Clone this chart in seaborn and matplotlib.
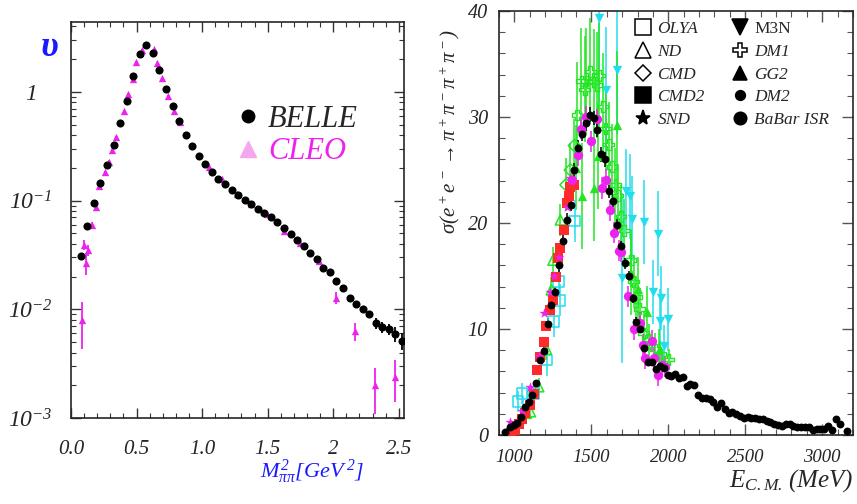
import numpy as np
import matplotlib
matplotlib.use("Agg")
import matplotlib.pyplot as plt
import seaborn as sns
from matplotlib.lines import Line2D
from matplotlib.ticker import (MultipleLocator, FixedLocator, FixedFormatter,
                               LogLocator, NullFormatter)

# ---------------- data: left panel (spectral function v) ----------------
belle_x = [0.075, 0.125, 0.175, 0.225, 0.275, 0.325, 0.375, 0.425, 0.475, 0.525,
           0.575, 0.625, 0.675, 0.725, 0.775, 0.825, 0.875, 0.925, 0.975, 1.025,
           1.075, 1.125, 1.175, 1.225, 1.275, 1.325, 1.375, 1.425, 1.475, 1.525,
           1.575, 1.625, 1.675, 1.725, 1.775, 1.825, 1.875, 1.925, 1.975, 2.025,
           2.075, 2.125, 2.175, 2.225, 2.275, 2.325, 2.375, 2.425, 2.475, 2.525]
belle_v = [0.0308, 0.0585, 0.0946, 0.145, 0.213, 0.325, 0.519, 0.826, 1.40, 2.24,
           2.71, 2.27, 1.59, 1.06, 0.743, 0.541, 0.405, 0.319, 0.258, 0.216,
           0.184, 0.158, 0.142, 0.125, 0.113, 0.101, 0.0926, 0.0839, 0.0776, 0.0713,
           0.0637, 0.0565, 0.0497, 0.0438, 0.0383, 0.0332, 0.0289, 0.0240, 0.0219, 0.0181,
           0.0157, 0.0126, 0.0112, 0.0100, 0.0090, 0.00745, 0.00685, 0.00656, 0.00594, 0.00515]
belle_err = [0.002, 0.002, 0.003, 0.004, 0.005, 0.007, 0.01, 0.015, 0.025, 0.035,
             0.04, 0.035, 0.025, 0.017, 0.012, 0.009, 0.007, 0.006, 0.005, 0.004,
             0.004, 0.0035, 0.003, 0.003, 0.0028, 0.0025, 0.0024, 0.0022, 0.002, 0.0019,
             0.0017, 0.0015, 0.0014, 0.0013, 0.0012, 0.0011, 0.001, 0.0009, 0.0009, 0.0008,
             0.0008, 0.0007, 0.0007, 0.0007, 0.0007, 0.0009, 0.0008, 0.0008, 0.0009, 0.0009]

cleo_x = [0.082, 0.099, 0.112, 0.13, 0.163, 0.19, 0.214, 0.262, 0.288, 0.315,
          0.341, 0.402, 0.433, 0.471, 0.498, 0.54, 0.634, 0.659, 0.697, 0.743,
          0.786, 0.832, 1.053, 1.153, 1.269, 1.372, 1.494, 1.624, 1.748, 1.888,
          2.02, 2.17, 2.315, 2.468]
cleo_v = [0.0080, 0.039, 0.0269, 0.0352, 0.0600, 0.0869, 0.136, 0.184, 0.229, 0.293,
          0.388, 0.669, 0.953, 1.32, 1.90, 2.43, 2.47, 1.84, 1.33, 0.925,
          0.669, 0.526, 0.203, 0.158, 0.116, 0.093, 0.0755, 0.0526, 0.0406, 0.0279,
          0.0128, 0.0063, 0.0020, 0.0024]
cleo_err = [0.0037, 0.004, 0.006, 0.004, 0.004, 0.004, 0.005, 0.005, 0.006, 0.007,
            0.008, 0.012, 0.015, 0.02, 0.03, 0.035, 0.035, 0.03, 0.02, 0.015,
            0.012, 0.01, 0.005, 0.004, 0.003, 0.003, 0.0025, 0.002, 0.0018, 0.0015,
            0.0015, 0.0012, 0.0009, 0.001]

# ---------------- data: right panel (cross sections, nb) ----------------
babar_E = [937, 969, 995, 1017, 1044, 1071, 1093, 1117, 1141, 1167, 1190, 1216, 1240,
           1266, 1290, 1316, 1342, 1366, 1385, 1414, 1440, 1466, 1489, 1515, 1539,
           1565, 1591, 1615, 1641, 1667, 1690, 1716, 1742, 1768, 1792, 1816, 1840,
           1866, 1892, 1918, 1944, 1970, 1995, 2020, 2044, 2070, 2093, 2119, 2143,
           2167, 2193, 2219, 2245, 2268, 2292, 2316, 2340, 2366, 2392, 2416, 2442,
           2466, 2489, 2515, 2539, 2565, 2589, 2613, 2639, 2663, 2688, 2712, 2738,
           2762, 2788, 2812, 2838, 2862, 2888, 2914, 2937, 2963, 2987, 3013, 3039,
           3063, 3091, 3117, 3164]
babar_sig = [0.31, 0.73, 0.94, 1.16, 1.70, 2.61, 3.08, 3.77, 4.93, 7.08, 7.95, 10.5, 12.3,
             13.5, 16.0, 18.3, 20.3, 21.7, 25.0, 27.1, 28.4, 29.4, 30.2, 29.9, 28.8,
             26.5, 26.0, 23.0, 22.1, 19.8, 17.8, 16.2, 15.0, 12.9, 10.7, 10.0, 8.24,
             6.9, 6.86, 6.2, 6.5, 6.3, 5.7, 5.57, 5.72, 5.35, 5.5, 4.62, 4.78,
             4.72, 3.77, 3.46, 3.52, 3.37, 3.14, 2.67, 3.05, 2.42, 2.05, 2.2, 1.98,
             1.79, 1.63, 1.73, 1.58, 1.63, 1.48, 1.48, 1.32, 1.2, 1.04, 0.94, 0.88,
             1.01, 1.01, 0.85, 0.79, 0.72, 0.79, 0.79, 0.47, 0.53, 0.57, 0.57, 0.85,
             0.47, 1.48, 1.04, 0.38]
babar_err = [0.1, 0.15, 0.15, 0.15, 0.2, 0.2, 0.25, 0.3, 0.3, 0.4, 0.4, 0.5, 0.5,
             0.5, 0.6, 0.6, 0.6, 0.6, 0.7, 0.7, 0.7, 0.7, 0.7, 0.7, 0.7,
             0.7, 0.7, 0.6, 0.6, 0.6, 0.5, 0.5, 0.5, 0.4, 0.4, 0.4, 0.3,
             0.3, 0.3, 0.3, 0.3, 0.3, 0.2, 0.2, 0.2, 0.2, 0.2, 0.2, 0.2,
             0.2, 0.2, 0.15, 0.15, 0.15, 0.15, 0.15, 0.15, 0.15, 0.1, 0.1, 0.1,
             0.1, 0.1, 0.1, 0.1, 0.1, 0.1, 0.1, 0.1, 0.1, 0.1, 0.1, 0.1,
             0.1, 0.1, 0.1, 0.1, 0.1, 0.1, 0.1, 0.1, 0.1, 0.1, 0.1, 0.1,
             0.1, 0.2, 0.2, 0.1]

cmd2_E = [981, 1002, 1030, 1050, 1071, 1100, 1125, 1147, 1169, 1190, 1208, 1234,
          1251, 1273, 1281, 1299, 1320, 1342, 1353, 1364, 1385]
cmd2_sig = [0.16, 0.5, 1.0, 1.5, 2.05, 2.83, 3.84, 6.13, 7.39, 8.8, 10.3, 11.8,
            12.7, 14.9, 16.7, 17.6, 19.3, 21.9, 22.5, 23.4, 23.6]

snd_E = [974, 1050, 1104, 1158, 1195, 1230, 1255, 1288, 1342, 1364]
snd_sig = [1.25, 2.3, 4.56, 7.5, 11.5, 13.5, 15.0, 16.8, 21.5, 24.2]

olya_E = [1024, 1050, 1125, 1212, 1255, 1288, 1294, 1392]
olya_sig = [3.14, 3.93, 3.93, 7.08, 10.7, 14.5, 12.7, 20.2]
olya_err = [1.0, 1.0, 1.2, 1.5, 1.5, 1.5, 1.5, 2.0]

nd_E = [1006, 1078, 1104, 1158, 1208, 1240, 1251, 1299]
nd_sig = [0.16, 2.05, 2.2, 4.56, 8.1, 13.7, 16.5, 20.3]
nd_err = [0.3, 0.5, 0.5, 0.8, 1.0, 1.2, 1.2, 1.5]

cmd_E = [1336, 1364, 1390]
cmd_sig = [23.6, 25.0, 27.3]
cmd_err = [2.5, 2.5, 2.5]

dm1_E = [1407, 1435, 1457, 1468, 1493, 1515, 1537, 1552, 1576, 1593, 1613, 1634,
         1656, 1673, 1693, 1714, 1758, 1775, 1792, 1814, 1840, 1872, 1916, 1948, 2002]
dm1_sig = [30.2, 33.4, 32.6, 33.4, 34.3, 33.3, 33.0, 33.9, 31.0, 28.9, 27.4, 25.3,
           23.6, 22.6, 20.6, 19.3, 16.5, 14.5, 13.0, 11.9, 9.6, 9.0, 8.1, 7.64, 7.14]
dm1_err = [5, 5, 5, 5, 5, 5, 5, 5, 5, 4, 4, 4, 3.5, 3, 3, 3, 2.5, 2.5, 2, 2, 2,
           1.5, 1.5, 1.2, 1]

gg2_E = [1403, 1440, 1515, 1543, 1667, 1760, 1800, 1862, 1940]
gg2_sig = [25.2, 22.5, 23.3, 26.3, 29.2, 15.3, 13.8, 11.6, 8.0]
gg2_err = [4, 5, 5, 5, 7, 4, 3, 2.5, 2]

m3n_E = [1550, 1595, 1667, 1697, 1728, 1753, 1766, 1840, 1900, 1931, 1943, 1952, 1970, 1995]
m3n_sig = [39.3, 32.5, 34.4, 14.8, 23.0, 22.5, 20.4, 20.1, 13.5, 19.0, 10.8, 12.9, 8.4, 10.9]
m3n_err = [8, 6, 6, 8, 4, 4, 4, 4, 3, 4, 3, 3, 2, 3]

dm2_E = [1372, 1411, 1433, 1463, 1500, 1539, 1570, 1597, 1623, 1649, 1677, 1694,
         1736, 1775, 1818, 1833, 1851, 1894, 1909, 1935, 1957, 1978]
dm2_sig = [24.1, 26.4, 28.9, 30.0, 27.7, 29.8, 23.3, 24.1, 21.2, 19.1, 17.4, 17.3,
           13.1, 9.97, 10.6, 8.5, 7.24, 8.9, 7.24, 5.66, 6.6, 6.44]
dm2_err = [1.0] * len(dm2_E)

legend_names = ["OLYA", "ND", "CMD", "CMD2", "SND", "M3N", "DM1", "GG2", "DM2", "BaBar ISR"]

# ---------------- styling ----------------
sns.set_style("ticks")
plt.rcParams['font.family'] = ['Liberation Serif', 'DejaVu Serif']
plt.rcParams['font.style'] = 'italic'
plt.rcParams['mathtext.fontset'] = 'custom'
plt.rcParams['mathtext.rm'] = 'Liberation Serif:italic'
plt.rcParams['mathtext.it'] = 'Liberation Serif:italic'
plt.rcParams['mathtext.bf'] = 'Liberation Serif:bold:italic'
plt.rcParams['axes.linewidth'] = 1.2

GREEN = '#22e622'
CYAN = '#22ddee'
RED = '#ff2a2a'
MAG = '#ee22ee'
BLUE = '#1a1aff'

fig = plt.figure(figsize=(8.57, 5.04), dpi=100)
axL = fig.add_axes([71 / 857, 1 - 418 / 504, 333 / 857, 396 / 504])
axR = fig.add_axes([499 / 857, 1 - 435 / 504, 354 / 857, 424 / 504])

# ---------------- left panel ----------------
axL.set_yscale('log')
axL.errorbar(cleo_x, cleo_v, yerr=cleo_err, fmt='none', ecolor=MAG, elinewidth=1.3, zorder=2)
sns.scatterplot(x=cleo_x, y=cleo_v, ax=axL, marker='^', s=28, color=MAG,
                edgecolor=MAG, linewidth=0, zorder=2)
axL.errorbar(belle_x, belle_v, yerr=belle_err, fmt='none', ecolor='k', elinewidth=1.3, zorder=3)
sns.scatterplot(x=belle_x, y=belle_v, ax=axL, marker='o', s=34, color='k',
                edgecolor='k', linewidth=0, zorder=4)

axL.set_xlim(0, 2.54)
axL.set_ylim(1e-3, 4.4)
axL.xaxis.set_major_locator(FixedLocator([0, 0.5, 1.0, 1.5, 2.0, 2.5]))
axL.xaxis.set_major_formatter(FixedFormatter(['0.0', '0.5', '1.0', '1.5', '2', '2.5']))
axL.xaxis.set_minor_locator(MultipleLocator(0.1))
axL.yaxis.set_major_locator(FixedLocator([1e-3, 1e-2, 1e-1, 1]))
axL.yaxis.set_major_formatter(FixedFormatter([r'$10^{-3}$', r'$10^{-2}$', r'$10^{-1}$', r'$1$']))
axL.yaxis.set_minor_locator(LogLocator(base=10, subs=np.arange(2, 10) * 1.0, numticks=20))
axL.yaxis.set_minor_formatter(NullFormatter())
axL.tick_params(which='both', direction='in', top=True, right=True, color='#333333')
axL.tick_params(which='major', length=7, width=1.0)
axL.tick_params(which='minor', length=3.5, width=0.8)
axL.tick_params(axis='y', which='major', pad=29, labelsize=17)
axL.tick_params(axis='x', which='major', pad=16, labelsize=15)
for lbl in axL.get_yticklabels():
    lbl.set_horizontalalignment('center')
axL.set_xlabel('')
axL.set_ylabel('')

hL = [Line2D([], [], marker='o', ls='none', color='k', ms=9),
      Line2D([], [], marker='^', ls='none', color='#f5a6ee', ms=11)]
legL = axL.legend(hL, ['BELLE', 'CLEO'], loc='upper left', bbox_to_anchor=(0.44, 0.83),
                  frameon=False, fontsize=22, handlelength=1.0, handletextpad=0.15,
                  labelspacing=0.12, borderpad=0)
legL.get_texts()[1].set_color(MAG)

fig.text(50 / 857, 1 - 48 / 504, 'υ', color=BLUE, fontsize=26, fontweight='bold',
         ha='center', va='center')
fig.text(312 / 857, 1 - 472 / 504, r'$M^2_{\pi\pi}[GeV^{\,2}]$', color=BLUE, fontsize=16,
         ha='center', va='center')

# ---------------- right panel ----------------
def eb(ax, x, y, e, c):
    ax.errorbar(x, y, yerr=e, fmt='none', ecolor=c, elinewidth=1.1, zorder=2)

eb(axR, m3n_E, m3n_sig, m3n_err, CYAN)
eb(axR, dm1_E, dm1_sig, dm1_err, GREEN)
eb(axR, gg2_E, gg2_sig, gg2_err, GREEN)
eb(axR, olya_E, olya_sig, olya_err, CYAN)
eb(axR, nd_E, nd_sig, nd_err, GREEN)
eb(axR, cmd_E, cmd_sig, cmd_err, GREEN)
eb(axR, dm2_E, dm2_sig, dm2_err, MAG)
eb(axR, babar_E, babar_sig, babar_err, 'k')

sns.scatterplot(x=m3n_E, y=m3n_sig, ax=axR, marker='v', s=45, color=CYAN, edgecolor=CYAN, linewidth=0, zorder=3)
sns.scatterplot(x=dm1_E, y=dm1_sig, ax=axR, marker='P', s=60, facecolor='none', edgecolor=GREEN, linewidth=1.0, zorder=3)
sns.scatterplot(x=gg2_E, y=gg2_sig, ax=axR, marker='^', s=45, color=GREEN, edgecolor=GREEN, linewidth=0, zorder=3)
sns.scatterplot(x=olya_E, y=olya_sig, ax=axR, marker='s', s=60, facecolor='none', edgecolor=CYAN, linewidth=1.1, zorder=3)
sns.scatterplot(x=nd_E, y=nd_sig, ax=axR, marker='^', s=55, facecolor='none', edgecolor=GREEN, linewidth=1.1, zorder=3)
sns.scatterplot(x=cmd_E, y=cmd_sig, ax=axR, marker='D', s=40, facecolor='none', edgecolor=GREEN, linewidth=1.1, zorder=3)
sns.scatterplot(x=cmd2_E, y=cmd2_sig, ax=axR, marker='s', s=55, color=RED, edgecolor=RED, linewidth=0, zorder=4)
sns.scatterplot(x=snd_E, y=snd_sig, ax=axR, marker='*', s=60, color=MAG, edgecolor=MAG, linewidth=0, zorder=4)
sns.scatterplot(x=dm2_E, y=dm2_sig, ax=axR, marker='o', s=45, color=MAG, edgecolor=MAG, linewidth=0, zorder=4)
sns.scatterplot(x=babar_E, y=babar_sig, ax=axR, marker='o', s=32, color='k', edgecolor='k', linewidth=0, zorder=5)

axR.set_xlim(900, 3200)
axR.set_ylim(0, 40)
axR.xaxis.set_major_locator(MultipleLocator(500))
axR.xaxis.set_minor_locator(MultipleLocator(100))
axR.yaxis.set_major_locator(MultipleLocator(10))
axR.yaxis.set_minor_locator(MultipleLocator(2))
axR.tick_params(which='both', direction='in', top=True, right=True, color='#555555')
axR.tick_params(which='major', length=8, width=1.0)
axR.tick_params(which='minor', length=4, width=0.8)
axR.tick_params(axis='y', which='major', pad=8, labelsize=14.5)
axR.tick_params(axis='x', which='major', pad=10, labelsize=13.5)
axR.set_xlabel('')
axR.set_ylabel('')

mk = [('s', 'none'), ('^', 'none'), ('D', 'none'), ('s', 'k'), ('*', 'k'),
      ('v', 'k'), ('P', 'none'), ('^', 'k'), ('o', 'k'), ('o', 'k')]
msz = [11, 11, 8, 11, 11, 11, 10, 10, 7, 9]
hR = [Line2D([], [], marker=m, ls='none', mfc=f, mec='k', mew=1.1, ms=s)
      for (m, f), s in zip(mk, msz)]
legR = axR.legend(hR, legend_names, ncol=2, loc='upper left', bbox_to_anchor=(0.357, 0.997),
                  frameon=False, fontsize=12.5, handlelength=1.0, handletextpad=0.35,
                  labelspacing=0.38, columnspacing=1.5, borderpad=0)
legR.get_texts()[5].set_fontstyle('normal')

fig.text(450 / 857, 1 - 131 / 504, r'$\sigma(e^+e^-\rightarrow\pi^+\pi^-\pi^+\pi^-)$',
         rotation=90, ha='center', va='center', fontsize=15)
fig.text(853 / 857, 1 - 481 / 504, r'$E_{C.M.}\,(MeV)$', ha='right', va='center', fontsize=18)

fig.savefig('out.png', dpi=100)
